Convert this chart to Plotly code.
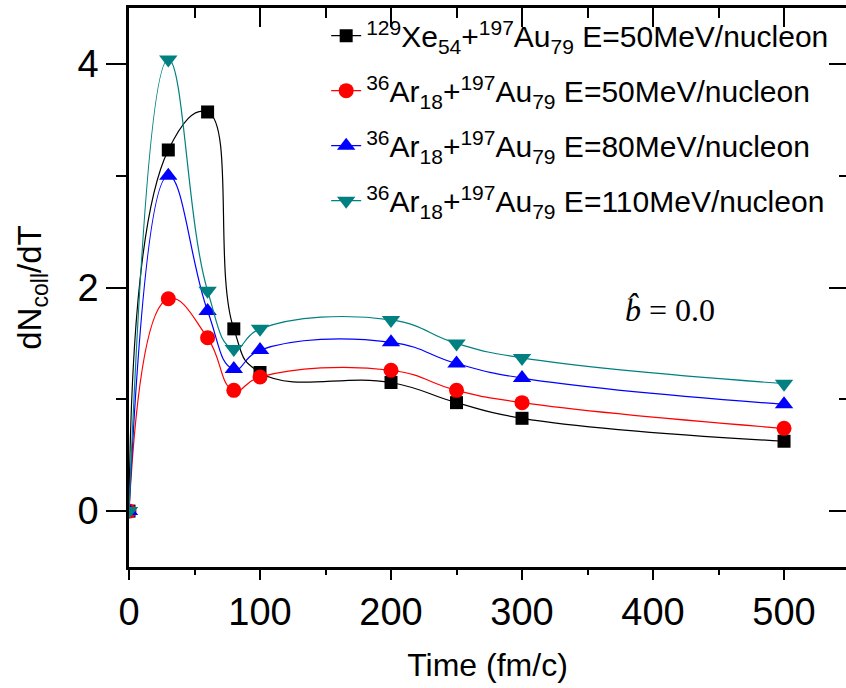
import plotly.graph_objects as go

time = [0, 30, 60, 80, 100, 200, 250, 300, 500]
xe50 = [0, 3.23, 3.57, 1.63, 1.24, 1.15, 0.97, 0.83, 0.625]
ar50 = [0, 1.90, 1.55, 1.08, 1.20, 1.26, 1.08, 0.97, 0.74]
ar80 = [0, 3.00, 1.79, 1.27, 1.44, 1.51, 1.32, 1.19, 0.955]
ar110 = [0, 4.04, 1.97, 1.45, 1.63, 1.71, 1.50, 1.37, 1.14]

names = [
    "<sup>129</sup>Xe<sub>54</sub>+<sup>197</sup>Au<sub>79</sub> E=50MeV/nucleon",
    "<sup>36</sup>Ar<sub>18</sub>+<sup>197</sup>Au<sub>79</sub> E=50MeV/nucleon",
    "<sup>36</sup>Ar<sub>18</sub>+<sup>197</sup>Au<sub>79</sub> E=80MeV/nucleon",
    "<sup>36</sup>Ar<sub>18</sub>+<sup>197</sup>Au<sub>79</sub> E=110MeV/nucleon",
]
series = [xe50, ar50, ar80, ar110]
colors = ["#000000", "#ff0000", "#0000ff", "#008080"]
symbols = ["square", "circle", "triangle-up", "triangle-down"]
sizes = [13, 15, 16, 16]

FONT = "Liberation Sans, Arial, sans-serif"

fig = go.Figure()
for i, (nm, ys, c, s, sz) in enumerate(zip(names, series, colors, symbols, sizes)):
    fig.add_trace(go.Scatter(
        x=time, y=ys, name=nm, mode="lines+markers",
        line=dict(color=c, width=1.2, shape="spline", smoothing=1.3),
        marker=dict(color=c, symbol=s, size=sz, line=dict(width=0)),
        legendgroup=f"g{i}",
    ))

XR = [0, 547.3]
YR = [-0.5, 4.5]

fig.update_layout(
    width=846, height=688,
    margin=dict(l=129, r=0, t=8, b=121),
    paper_bgcolor="white", plot_bgcolor="white",
    font=dict(family=FONT, color="black"),
    showlegend=True,
    legend=dict(
        x=0.275, y=0.997, xanchor="left", yanchor="top",
        bgcolor="rgba(0,0,0,0)", borderwidth=0,
        font=dict(size=30, family=FONT),
        tracegroupgap=13,
        itemwidth=30,
    ),
    xaxis=dict(
        range=XR, showgrid=False, zeroline=False,
        showline=True, linecolor="black", linewidth=2.5,
        ticks="outside", ticklen=10, tickwidth=2, tickcolor="black",
        tickvals=[0, 100, 200, 300, 400, 500],
        tickfont=dict(size=38, family=FONT),
        minor=dict(tickvals=[50, 150, 250, 350, 450], ticklen=5, tickwidth=2, ticks="outside", tickcolor="black"),
        title=dict(text="Time (fm/c)", font=dict(size=32, family=FONT), standoff=22),
    ),
    yaxis=dict(
        range=YR, showgrid=False, zeroline=False,
        showline=True, linecolor="black", linewidth=2.5,
        ticks="outside", ticklen=20, tickwidth=2, tickcolor="black",
        tickvals=[0, 2, 4],
        tickfont=dict(size=38, family=FONT),
        minor=dict(tickvals=[1, 3], ticklen=10, tickwidth=2, ticks="outside", tickcolor="black"),
        title=dict(text="dN<sub>coll</sub>/dT", font=dict(size=33, family=FONT), standoff=26),
    ),
    xaxis2=dict(
        range=XR, overlaying="x", side="top", showgrid=False, zeroline=False,
        showline=True, linecolor="black", linewidth=3,
        ticks="inside", ticklen=19, tickwidth=2, tickcolor="black",
        tickvals=[0, 100, 200, 300, 400, 500], showticklabels=False,
        minor=dict(tickvals=[50, 150, 250, 350, 450], ticklen=10, tickwidth=2, ticks="inside", tickcolor="black"),
    ),
    yaxis2=dict(
        range=YR, overlaying="y", side="right", showgrid=False, zeroline=False,
        showline=False,
        ticks="inside", ticklen=17, tickwidth=2, tickcolor="black",
        tickvals=[0, 2, 4], showticklabels=False,
        minor=dict(tickvals=[1, 3], ticklen=7, tickwidth=2, ticks="inside", tickcolor="black"),
    ),
)

# invisible trace to activate secondary axes
fig.add_trace(go.Scatter(x=[None], y=[None], xaxis="x2", yaxis="y2", showlegend=False, hoverinfo="skip"))

fig.add_annotation(
    x=0.755, y=0.46, xref="paper", yref="paper",
    text="<i>b̂</i> = 0.0", showarrow=False,
    font=dict(family="Liberation Serif, Times New Roman, serif", size=32, color="black"),
    xanchor="center", yanchor="middle",
)

fig.write_html("out.html")
